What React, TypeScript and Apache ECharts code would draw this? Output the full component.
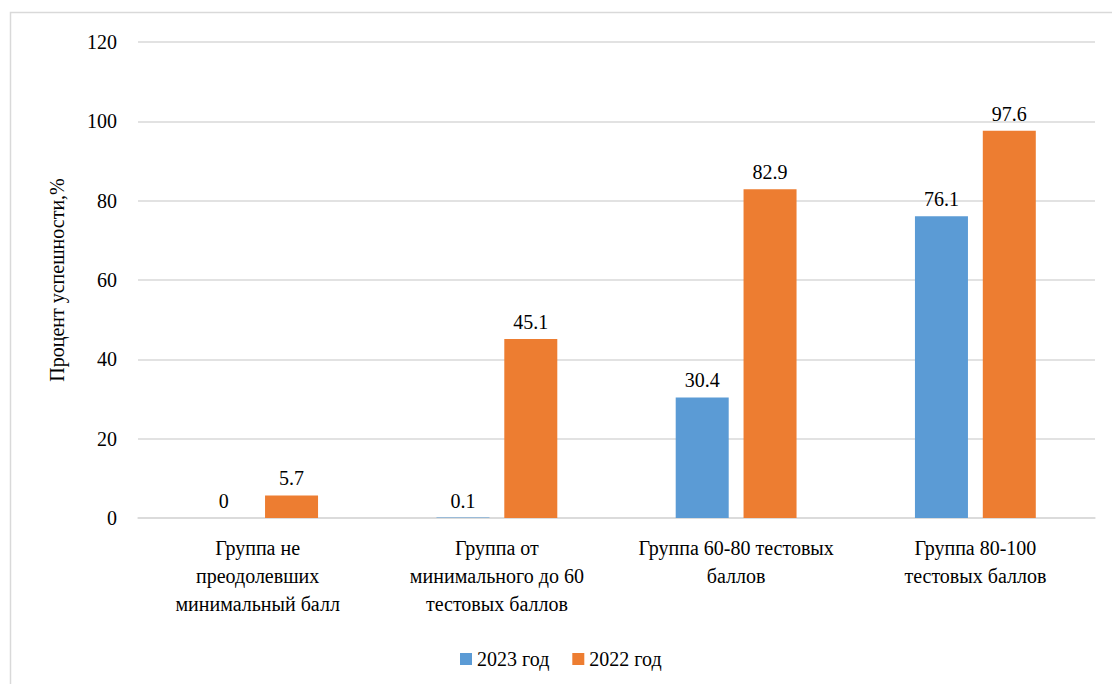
import React, { useEffect, useRef } from "react";
import * as echarts from "echarts";

const categories = [
  "Группа не\nпреодолевших\nминимальный балл",
  "Группа от\nминимального до 60\nтестовых баллов",
  "Группа 60-80 тестовых\nбаллов",
  "Группа 80-100\nтестовых баллов",
];
const seriesNames = ["2023 год", "2022 год"];
const values2023 = [0, 0.1, 30.4, 76.1];
const values2022 = [5.7, 45.1, 82.9, 97.6];
const yTicks = { min: 0, max: 120, interval: 20 };
const yAxisName = "Процент успешности,%";

const FONT = "serif";

export default function App() {
  const ref = useRef<HTMLDivElement>(null);
  useEffect(() => {
    if (!ref.current) return;
    const chart = echarts.init(ref.current, undefined, { renderer: "svg" });
    const label = {
      show: true,
      position: "top",
      distance: 7,
      fontSize: 20,
      fontFamily: FONT,
      color: "#000",
    };
    chart.setOption({
      animation: false,
      backgroundColor: "#fff",
      textStyle: { fontFamily: FONT },
      graphic: [
        {
          type: "rect",
          shape: { x: 10.5, y: 12.5, width: 1300, height: 900 },
          style: { fill: "none", stroke: "#d9d9d9", lineWidth: 1.5 },
          silent: true,
        },
      ],
      grid: { left: 138, right: 17, top: 42, bottom: 166, containLabel: false },
      legend: {
        data: seriesNames,
        left: 455,
        top: 644,
        itemWidth: 12,
        itemHeight: 12,
        itemGap: 23,
        icon: "rect",
        textStyle: { fontSize: 20, fontFamily: FONT, color: "#000" },
      },
      xAxis: {
        type: "category",
        data: categories,
        axisLine: { lineStyle: { color: "#d9d9d9", width: 1.5 } },
        axisTick: { show: false },
        axisLabel: {
          interval: 0,
          margin: 16,
          fontSize: 20,
          lineHeight: 28,
          fontFamily: FONT,
          color: "#000",
          align: "center",
        },
      },
      yAxis: {
        type: "value",
        min: yTicks.min,
        max: yTicks.max,
        interval: yTicks.interval,
        name: yAxisName,
        nameLocation: "middle",
        nameRotate: 90,
        nameGap: 71,
        nameTextStyle: { fontSize: 20, fontFamily: FONT, color: "#000" },
        axisLine: { show: false },
        axisTick: { show: false },
        splitLine: { lineStyle: { color: "#d9d9d9", width: 1.5 } },
        axisLabel: { margin: 21, fontSize: 20, fontFamily: FONT, color: "#000" },
      },
      series: [
        {
          name: seriesNames[0],
          type: "bar",
          data: values2023,
          barWidth: 53,
          barGap: "28%",
          itemStyle: { color: "#5B9BD5" },
          label,
        },
        {
          name: seriesNames[1],
          type: "bar",
          data: values2022,
          barWidth: 53,
          barGap: "28%",
          itemStyle: { color: "#ED7D31" },
          label,
        },
      ],
    });
    return () => chart.dispose();
  }, []);
  return (
    <div
      ref={ref}
      style={{ position: "fixed", left: 0, top: 0, width: 1112, height: 684 }}
    />
  );
}
